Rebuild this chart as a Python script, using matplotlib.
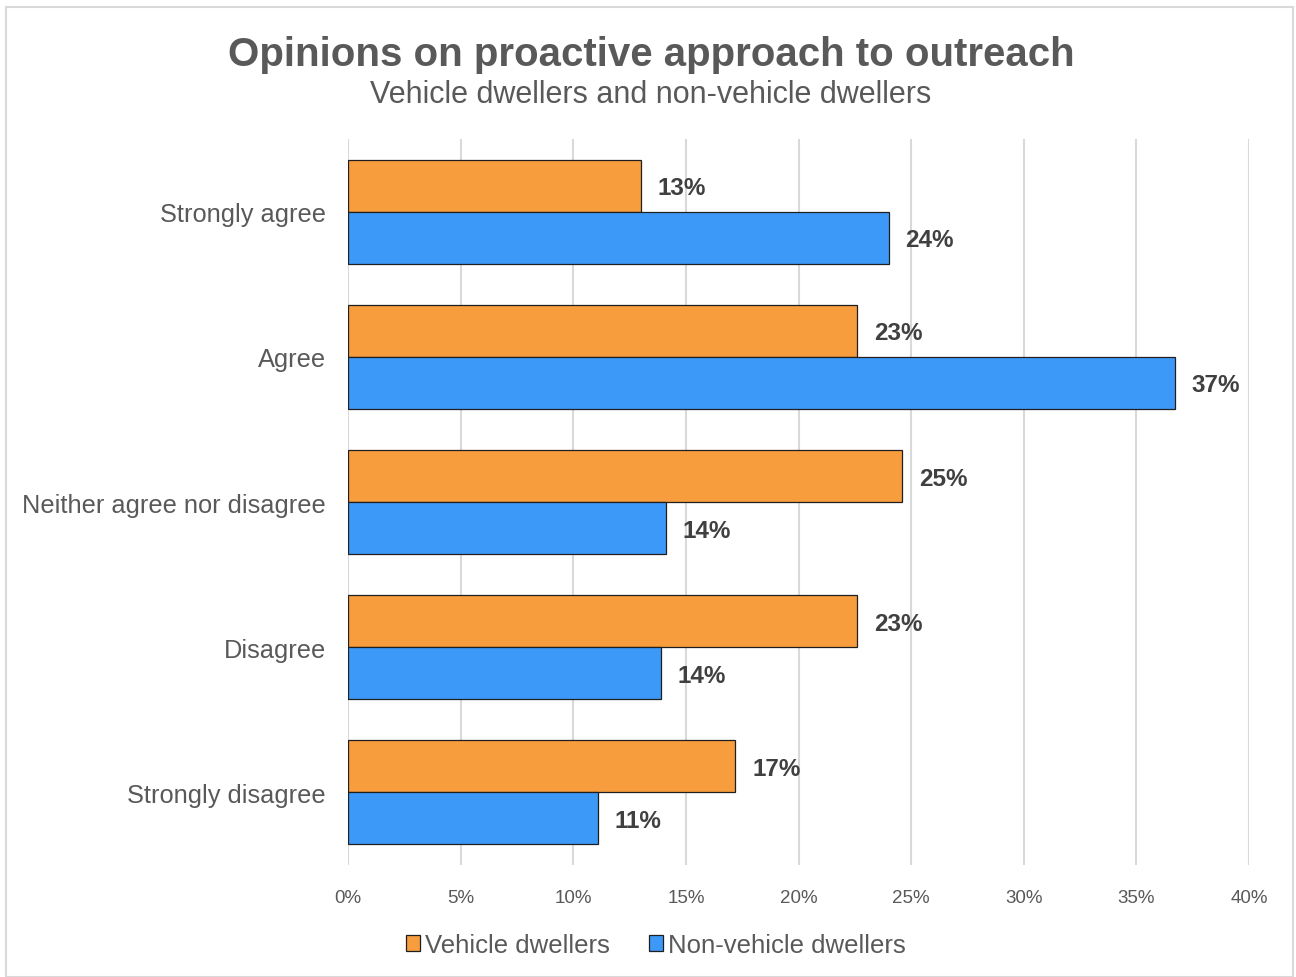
import matplotlib
matplotlib.use("Agg")
import matplotlib.pyplot as plt
from matplotlib.patches import Rectangle
import numpy as np

plt.rcParams['font.family'] = ['Liberation Sans', 'DejaVu Sans']

categories = ["Strongly agree", "Agree", "Neither agree nor disagree",
              "Disagree", "Strongly disagree"]
vehicle = [13.0, 22.6, 24.6, 22.6, 17.2]
non_vehicle = [24.0, 36.7, 14.1, 13.9, 11.1]
series_names = ["Vehicle dwellers", "Non-vehicle dwellers"]
xticks = [0, 5, 10, 15, 20, 25, 30, 35, 40]

orange = "#F89D3E"
blue = "#3D99F8"
text_gray = "#595959"
label_gray = "#404040"

fig = plt.figure(figsize=(12.96, 9.78), dpi=100)
fig.patches.append(Rectangle((0.005, 0.0), 0.993, 0.992, transform=fig.transFigure,
                             fill=False, edgecolor="#D9D9D9", linewidth=1.5))

ax = fig.add_axes([348/1296, 1 - 866/978, (1249-348)/1296, (866-140)/978])

y = np.arange(len(categories))
h = 0.358
ax.barh(y - h/2, vehicle, height=h, color=orange, edgecolor="#1f1f1f", linewidth=0.9,
        label=series_names[0], zorder=3)
ax.barh(y + h/2, non_vehicle, height=h, color=blue, edgecolor="#1f1f1f", linewidth=0.9,
        label=series_names[1], zorder=3)

for yi, v in zip(y - h/2, vehicle):
    ax.annotate(f"{v:.0f}%", (v, yi), xytext=(12, -1.5), textcoords="offset points",
                va="center", ha="left", fontsize=17.5, fontweight="bold", color=label_gray)
for yi, v in zip(y + h/2, non_vehicle):
    ax.annotate(f"{v:.0f}%", (v, yi), xytext=(12, -1.5), textcoords="offset points",
                va="center", ha="left", fontsize=17.5, fontweight="bold", color=label_gray)

ax.set_xlim(0, 40)
ax.set_ylim(len(categories) - 0.5, -0.5)
ax.set_xticks(xticks)
ax.set_xticklabels([f"{t}%" for t in xticks], fontsize=13.5, color=text_gray)
ax.set_yticks(y)
ax.set_yticklabels(categories, fontsize=18.3, color=text_gray)
ax.tick_params(axis="both", length=0)
ax.tick_params(axis="x", pad=17)
ax.tick_params(axis="y", pad=16)
ax.xaxis.grid(True, color="#D9D9D9", linewidth=1.5, zorder=0)
ax.set_axisbelow(True)
for s in ax.spines.values():
    s.set_visible(False)

fig.text(651/1296, 1 - 55/978, "Opinions on proactive approach to outreach",
         ha="center", va="center", fontsize=29, fontweight="bold", color=text_gray)
fig.text(651/1296, 1 - 95/978, "Vehicle dwellers and non-vehicle dwellers",
         ha="center", va="center", fontsize=22, color=text_gray)

leg = fig.legend(loc="center", bbox_to_anchor=(656/1296, 1 - 946/978), ncol=2,
                 frameon=False, fontsize=18.5, handlelength=0.55, handleheight=0.55,
                 handletextpad=0.2, columnspacing=1.5)
for t in leg.get_texts():
    t.set_color(text_gray)

fig.savefig("out.png", dpi=100)
